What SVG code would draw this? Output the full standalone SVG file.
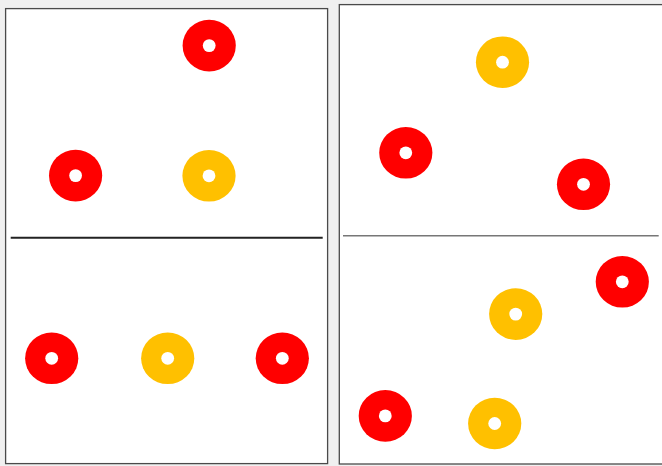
<svg xmlns="http://www.w3.org/2000/svg" width="662" height="466" viewBox="0 0 662 466">
<style>
.panel{fill:#ffffff;stroke:#4a4a4a;stroke-width:1.3}
.red{fill:#ff0000}
.yel{fill:#ffc000}
.hole{fill:#ffffff}
</style>
<defs>
<g id="ringR"><ellipse class="red" cx="0" cy="0" rx="26.6" ry="25.8"/><circle class="hole" cx="0" cy="0" r="6.4"/></g>
<g id="ringY"><ellipse class="yel" cx="0" cy="0" rx="26.6" ry="25.8"/><circle class="hole" cx="0" cy="0" r="6.4"/></g>
</defs>
<rect x="0" y="0" width="662" height="466" fill="#f0f0f0"/>
<g id="panel-left"><rect class="panel" x="5.6" y="8.6" width="322" height="455"/></g>
<g id="panel-right"><rect class="panel" x="339.3" y="4.6" width="330" height="459.4"/></g>
<g id="connectors">
<line x1="10.7" y1="237.8" x2="322.7" y2="237.8" stroke="#222" stroke-width="2"/>
<line x1="343" y1="235.8" x2="658.7" y2="235.8" stroke="#777" stroke-width="1.4"/>
</g>
<g id="n1"><use href="#ringR" x="209.2" y="45.6"/></g>
<g id="n2"><use href="#ringR" x="75.6" y="175.6"/></g>
<g id="n3"><use href="#ringY" x="209" y="175.8"/></g>
<g id="n4"><use href="#ringR" x="51.7" y="358.3"/></g>
<g id="n5"><use href="#ringY" x="167.7" y="358.3"/></g>
<g id="n6"><use href="#ringR" x="282.3" y="358.3"/></g>
<g id="n7"><use href="#ringY" x="502.5" y="62.2"/></g>
<g id="n8"><use href="#ringR" x="405.8" y="152.8"/></g>
<g id="n9"><use href="#ringR" x="583.5" y="184.3"/></g>
<g id="n10"><use href="#ringR" x="622.3" y="281.8"/></g>
<g id="n11"><use href="#ringY" x="515.7" y="314.1"/></g>
<g id="n12"><use href="#ringR" x="385.3" y="415.9"/></g>
<g id="n13"><use href="#ringY" x="494.7" y="423.5"/></g>
</svg>
